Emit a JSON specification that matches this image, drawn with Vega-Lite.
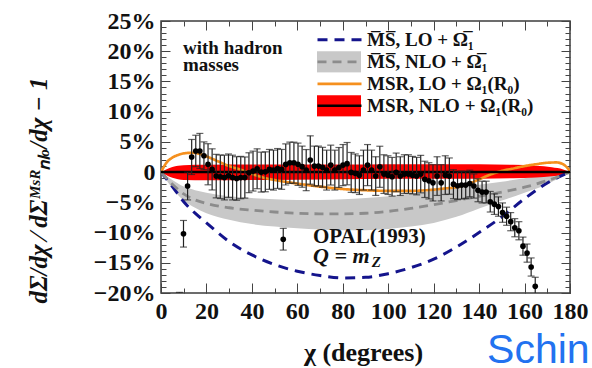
{
  "$schema": "https://vega.github.io/schema/vega-lite/v6.json",
  "width": 409,
  "height": 272,
  "autosize": {"type": "none"},
  "padding": {"left": 161, "top": 21, "right": 22, "bottom": 75},
  "background": "white",
  "config": {
    "view": {"stroke": "#3c3c3c", "strokeWidth": 1.5},
    "font": "Liberation Serif",
    "axis": {
      "grid": false, "domain": false, "tickColor": "#444", "tickWidth": 1,
      "labelFont": "Liberation Serif", "labelFontWeight": "bold", "labelFontSize": 24, "labelColor": "#111",
      "titleFont": "Liberation Serif", "titleFontWeight": "bold", "titleColor": "#111",
      "labelOverlap": false, "labelFlush": false
    }
  },
  "resolve": {"axis": {"x": "independent", "y": "independent"}},
  "datasets": {
    "bands": [
      {"x": 0, "lo": 0, "hi": 0, "band": "M̅S̅, NLO + Ω̅₁"},
      {"x": 5, "lo": -2.7, "hi": -1.3, "band": "M̅S̅, NLO + Ω̅₁"},
      {"x": 10, "lo": -4.7, "hi": -2.4, "band": "M̅S̅, NLO + Ω̅₁"},
      {"x": 15, "lo": -5.9, "hi": -3.0, "band": "M̅S̅, NLO + Ω̅₁"},
      {"x": 20, "lo": -6.8, "hi": -3.4, "band": "M̅S̅, NLO + Ω̅₁"},
      {"x": 30, "lo": -7.9, "hi": -4.0, "band": "M̅S̅, NLO + Ω̅₁"},
      {"x": 40, "lo": -8.6, "hi": -4.3, "band": "M̅S̅, NLO + Ω̅₁"},
      {"x": 50, "lo": -9.0, "hi": -4.5, "band": "M̅S̅, NLO + Ω̅₁"},
      {"x": 60, "lo": -9.3, "hi": -4.6, "band": "M̅S̅, NLO + Ω̅₁"},
      {"x": 70, "lo": -9.5, "hi": -4.6, "band": "M̅S̅, NLO + Ω̅₁"},
      {"x": 80, "lo": -9.6, "hi": -4.5, "band": "M̅S̅, NLO + Ω̅₁"},
      {"x": 90, "lo": -9.6, "hi": -4.3, "band": "M̅S̅, NLO + Ω̅₁"},
      {"x": 100, "lo": -9.4, "hi": -4.0, "band": "M̅S̅, NLO + Ω̅₁"},
      {"x": 110, "lo": -9.0, "hi": -3.6, "band": "M̅S̅, NLO + Ω̅₁"},
      {"x": 120, "lo": -8.4, "hi": -3.1, "band": "M̅S̅, NLO + Ω̅₁"},
      {"x": 130, "lo": -7.4, "hi": -2.6, "band": "M̅S̅, NLO + Ω̅₁"},
      {"x": 140, "lo": -6.0, "hi": -2.1, "band": "M̅S̅, NLO + Ω̅₁"},
      {"x": 150, "lo": -4.7, "hi": -1.6, "band": "M̅S̅, NLO + Ω̅₁"},
      {"x": 160, "lo": -3.4, "hi": -1.0, "band": "M̅S̅, NLO + Ω̅₁"},
      {"x": 170, "lo": -2.0, "hi": -0.4, "band": "M̅S̅, NLO + Ω̅₁"},
      {"x": 180, "lo": 0, "hi": 0, "band": "M̅S̅, NLO + Ω̅₁"},
      {"x": 0, "lo": 0, "hi": 0, "band": "MSR, NLO + Ω₁(R₀)"},
      {"x": 2, "lo": -0.45, "hi": 0.4, "band": "MSR, NLO + Ω₁(R₀)"},
      {"x": 5, "lo": -0.95, "hi": 0.85, "band": "MSR, NLO + Ω₁(R₀)"},
      {"x": 10, "lo": -1.3, "hi": 1.15, "band": "MSR, NLO + Ω₁(R₀)"},
      {"x": 20, "lo": -1.35, "hi": 1.2, "band": "MSR, NLO + Ω₁(R₀)"},
      {"x": 40, "lo": -1.3, "hi": 1.25, "band": "MSR, NLO + Ω₁(R₀)"},
      {"x": 60, "lo": -1.25, "hi": 1.25, "band": "MSR, NLO + Ω₁(R₀)"},
      {"x": 80, "lo": -1.2, "hi": 1.25, "band": "MSR, NLO + Ω₁(R₀)"},
      {"x": 100, "lo": -1.1, "hi": 1.3, "band": "MSR, NLO + Ω₁(R₀)"},
      {"x": 120, "lo": -1.1, "hi": 1.3, "band": "MSR, NLO + Ω₁(R₀)"},
      {"x": 140, "lo": -1.1, "hi": 1.3, "band": "MSR, NLO + Ω₁(R₀)"},
      {"x": 155, "lo": -1.0, "hi": 1.2, "band": "MSR, NLO + Ω₁(R₀)"},
      {"x": 165, "lo": -0.9, "hi": 1.05, "band": "MSR, NLO + Ω₁(R₀)"},
      {"x": 172, "lo": -0.7, "hi": 0.8, "band": "MSR, NLO + Ω₁(R₀)"},
      {"x": 177, "lo": -0.4, "hi": 0.45, "band": "MSR, NLO + Ω₁(R₀)"},
      {"x": 180, "lo": 0, "hi": 0, "band": "MSR, NLO + Ω₁(R₀)"}
    ],
    "curves": [
      {"x": 0, "y": 0, "curve": "msLO"}, {"x": 5, "y": -2.4, "curve": "msLO"}, {"x": 10, "y": -4.9, "curve": "msLO"},
      {"x": 15, "y": -6.8, "curve": "msLO"}, {"x": 20, "y": -8.4, "curve": "msLO"}, {"x": 25, "y": -10.0, "curve": "msLO"},
      {"x": 30, "y": -11.5, "curve": "msLO"}, {"x": 40, "y": -13.7, "curve": "msLO"}, {"x": 50, "y": -15.3, "curve": "msLO"},
      {"x": 60, "y": -16.4, "curve": "msLO"}, {"x": 70, "y": -17.1, "curve": "msLO"}, {"x": 80, "y": -17.5, "curve": "msLO"},
      {"x": 90, "y": -17.4, "curve": "msLO"}, {"x": 100, "y": -16.8, "curve": "msLO"}, {"x": 110, "y": -15.8, "curve": "msLO"},
      {"x": 120, "y": -14.4, "curve": "msLO"}, {"x": 130, "y": -12.4, "curve": "msLO"}, {"x": 140, "y": -10.0, "curve": "msLO"},
      {"x": 150, "y": -7.4, "curve": "msLO"}, {"x": 160, "y": -4.4, "curve": "msLO"}, {"x": 170, "y": -1.8, "curve": "msLO"},
      {"x": 180, "y": 0, "curve": "msLO"},
      {"x": 0, "y": 0, "curve": "msNLO"}, {"x": 5, "y": -2.0, "curve": "msNLO"}, {"x": 10, "y": -3.6, "curve": "msNLO"},
      {"x": 15, "y": -4.6, "curve": "msNLO"}, {"x": 20, "y": -5.2, "curve": "msNLO"}, {"x": 30, "y": -5.9, "curve": "msNLO"},
      {"x": 40, "y": -6.3, "curve": "msNLO"}, {"x": 50, "y": -6.6, "curve": "msNLO"}, {"x": 60, "y": -6.8, "curve": "msNLO"},
      {"x": 70, "y": -6.9, "curve": "msNLO"}, {"x": 80, "y": -6.9, "curve": "msNLO"}, {"x": 90, "y": -6.8, "curve": "msNLO"},
      {"x": 100, "y": -6.5, "curve": "msNLO"}, {"x": 110, "y": -6.0, "curve": "msNLO"}, {"x": 120, "y": -5.4, "curve": "msNLO"},
      {"x": 130, "y": -4.7, "curve": "msNLO"}, {"x": 140, "y": -4.0, "curve": "msNLO"}, {"x": 150, "y": -3.3, "curve": "msNLO"},
      {"x": 160, "y": -2.5, "curve": "msNLO"}, {"x": 170, "y": -1.4, "curve": "msNLO"}, {"x": 180, "y": 0, "curve": "msNLO"},
      {"x": 0, "y": 0, "curve": "msrLO"}, {"x": 2.5, "y": 1.6, "curve": "msrLO"}, {"x": 5, "y": 2.4, "curve": "msrLO"},
      {"x": 8, "y": 2.9, "curve": "msrLO"}, {"x": 11, "y": 3.15, "curve": "msrLO"}, {"x": 14, "y": 3.2, "curve": "msrLO"},
      {"x": 17, "y": 3.0, "curve": "msrLO"}, {"x": 20, "y": 2.6, "curve": "msrLO"}, {"x": 25, "y": 1.8, "curve": "msrLO"},
      {"x": 30, "y": 1.0, "curve": "msrLO"}, {"x": 35, "y": 0.4, "curve": "msrLO"}, {"x": 40, "y": -0.3, "curve": "msrLO"},
      {"x": 45, "y": -0.9, "curve": "msrLO"}, {"x": 50, "y": -1.3, "curve": "msrLO"}, {"x": 60, "y": -1.9, "curve": "msrLO"},
      {"x": 70, "y": -2.4, "curve": "msrLO"}, {"x": 80, "y": -2.8, "curve": "msrLO"}, {"x": 90, "y": -3.0, "curve": "msrLO"},
      {"x": 100, "y": -3.1, "curve": "msrLO"}, {"x": 110, "y": -3.1, "curve": "msrLO"}, {"x": 120, "y": -2.9, "curve": "msrLO"},
      {"x": 125, "y": -2.7, "curve": "msrLO"}, {"x": 130, "y": -2.5, "curve": "msrLO"}, {"x": 135, "y": -2.0, "curve": "msrLO"},
      {"x": 140, "y": -1.2, "curve": "msrLO"}, {"x": 145, "y": -0.4, "curve": "msrLO"}, {"x": 150, "y": 0.2, "curve": "msrLO"},
      {"x": 155, "y": 0.6, "curve": "msrLO"}, {"x": 160, "y": 1.0, "curve": "msrLO"}, {"x": 165, "y": 1.3, "curve": "msrLO"},
      {"x": 170, "y": 1.55, "curve": "msrLO"}, {"x": 174, "y": 1.6, "curve": "msrLO"}, {"x": 177, "y": 1.3, "curve": "msrLO"},
      {"x": 180, "y": 0.2, "curve": "msrLO"},
      {"x": 0, "y": 0, "curve": "msrNLO"}, {"x": 180, "y": 0, "curve": "msrNLO"}
    ],
    "pts": [
      {"x": 8.1, "y": -21.6, "err": 1.7}, {"x": 9.9, "y": -10.2, "err": 2.2}, {"x": 11.7, "y": -2.3, "err": 2.3},
      {"x": 13.5, "y": 2.5, "err": 2.9}, {"x": 15.3, "y": 3.5, "err": 2.6}, {"x": 17.1, "y": 3.5, "err": 2.9},
      {"x": 18.9, "y": 2.7, "err": 2.3}, {"x": 20.7, "y": 1.3, "err": 3.4}, {"x": 22.5, "y": 0.45, "err": 3.4},
      {"x": 24.3, "y": -0.66, "err": 3.6}, {"x": 26.1, "y": -0.77, "err": 3.6}, {"x": 27.9, "y": -0.9, "err": 3.7},
      {"x": 29.7, "y": -0.6, "err": 3.6}, {"x": 31.5, "y": -0.9, "err": 3.7}, {"x": 33.3, "y": -1.05, "err": 3.6},
      {"x": 35.1, "y": -0.9, "err": 3.5}, {"x": 36.9, "y": -0.9, "err": 3.4}, {"x": 38.7, "y": -0.1, "err": 3.3},
      {"x": 40.5, "y": 0.17, "err": 3.3}, {"x": 42.3, "y": 0.55, "err": 3.3}, {"x": 44.1, "y": 0.0, "err": 3.3},
      {"x": 45.9, "y": 0.05, "err": 3.3}, {"x": 47.7, "y": 0.45, "err": 3.3}, {"x": 49.5, "y": 0.33, "err": 3.3},
      {"x": 51.3, "y": 0.6, "err": 3.3}, {"x": 53.1, "y": 0.45, "err": 3.3}, {"x": 54.9, "y": 1.27, "err": 3.4},
      {"x": 56.7, "y": 1.55, "err": 3.4}, {"x": 58.5, "y": 1.55, "err": 3.4}, {"x": 60.3, "y": 1.3, "err": 3.5},
      {"x": 62.1, "y": 0.9, "err": 3.4}, {"x": 63.9, "y": 0.33, "err": 3.4}, {"x": 65.7, "y": 2.0, "err": 4.0},
      {"x": 67.5, "y": 1.0, "err": 3.3}, {"x": 69.3, "y": 1.0, "err": 3.3}, {"x": 71.1, "y": 0.8, "err": 3.3},
      {"x": 72.9, "y": 0.33, "err": 3.3}, {"x": 74.7, "y": 1.16, "err": 3.3}, {"x": 76.5, "y": 0.33, "err": 3.3},
      {"x": 78.3, "y": 0.77, "err": 3.3}, {"x": 80.1, "y": 1.16, "err": 3.4}, {"x": 81.9, "y": 1.4, "err": 3.5},
      {"x": 83.7, "y": -0.05, "err": 3.3}, {"x": 85.5, "y": -0.2, "err": 3.2}, {"x": 87.3, "y": -0.5, "err": 3.2},
      {"x": 89.1, "y": 0.33, "err": 3.3}, {"x": 90.9, "y": 1.16, "err": 3.4}, {"x": 92.7, "y": 0.33, "err": 3.3},
      {"x": 94.5, "y": -0.66, "err": 3.2}, {"x": 96.3, "y": 0.88, "err": 3.4}, {"x": 98.1, "y": -0.33, "err": 3.2},
      {"x": 99.9, "y": -0.5, "err": 3.2}, {"x": 101.7, "y": -0.77, "err": 3.2}, {"x": 103.5, "y": -0.05, "err": 3.2},
      {"x": 105.3, "y": -0.66, "err": 3.2}, {"x": 107.1, "y": -0.33, "err": 3.2}, {"x": 108.9, "y": -0.33, "err": 3.2},
      {"x": 110.7, "y": -0.5, "err": 3.1}, {"x": 112.5, "y": -0.66, "err": 3.1}, {"x": 114.3, "y": -0.33, "err": 3.1},
      {"x": 116.1, "y": -1.2, "err": 3.0}, {"x": 117.9, "y": -1.44, "err": 3.0}, {"x": 119.7, "y": -1.77, "err": 3.0},
      {"x": 121.5, "y": -0.66, "err": 3.2}, {"x": 123.3, "y": -1.77, "err": 3.0}, {"x": 125.1, "y": -0.5, "err": 3.2},
      {"x": 126.9, "y": -0.66, "err": 3.0}, {"x": 128.7, "y": -2.0, "err": 2.4}, {"x": 130.5, "y": -2.26, "err": 2.3},
      {"x": 132.3, "y": -2.15, "err": 2.3}, {"x": 134.1, "y": -2.15, "err": 2.2}, {"x": 135.9, "y": -1.88, "err": 2.2},
      {"x": 137.7, "y": -2.3, "err": 2.0}, {"x": 139.5, "y": -3.0, "err": 1.9}, {"x": 141.3, "y": -3.3, "err": 1.8},
      {"x": 143.1, "y": -3.3, "err": 1.8}, {"x": 144.9, "y": -4.9, "err": 1.7}, {"x": 146.7, "y": -5.3, "err": 1.7},
      {"x": 148.5, "y": -5.7, "err": 1.6}, {"x": 150.3, "y": -6.7, "err": 1.6}, {"x": 152.1, "y": -7.3, "err": 1.5},
      {"x": 153.9, "y": -8.2, "err": 1.5}, {"x": 155.7, "y": -9.2, "err": 1.5}, {"x": 157.5, "y": -9.7, "err": 1.5},
      {"x": 159.3, "y": -12.25, "err": 1.5}, {"x": 161.1, "y": -13.4, "err": 1.5}, {"x": 162.9, "y": -15.7, "err": 1.5},
      {"x": 164.7, "y": -18.9, "err": 1.5}, {"x": 53.8, "y": -11.1, "err": 1.8}
    ]
  },
  "layer": [
    {
      "data": {"name": "bands"},
      "mark": {"type": "area", "interpolate": "monotone", "clip": true},
      "encoding": {
        "x": {"field": "x", "type": "quantitative", "scale": {"domain": [0, 180], "nice": false, "zero": false},
          "axis": {"orient": "bottom", "values": [0, 20, 40, 60, 80, 100, 120, 140, 160, 180], "tickSize": -10, "labelPadding": 16,
            "labelFont": "Liberation Serif", "labelFontWeight": "bold", "labelFontSize": 24, "labelColor": "#111",
            "title": "χ (degrees)", "titleFont": "Liberation Serif", "titleFontWeight": "bold", "titleColor": "#111",
            "titleFontSize": 26, "titleX": 202, "titleY": 59, "titleBaseline": "middle"}},
        "y": {"field": "lo", "type": "quantitative", "stack": null, "scale": {"domain": [-20, 25], "nice": false, "zero": false},
          "axis": {"orient": "left", "values": [-20, -15, -10, -5, 0, 5, 10, 15, 20, 25], "tickSize": -9, "labelPadding": 15,
            "labelFont": "Liberation Serif", "labelFontWeight": "bold", "labelFontSize": 24, "labelColor": "#111",
            "labelExpr": "datum.value == 0 ? '0' : (datum.value < 0 ? '−' + abs(datum.value) : '' + datum.value) + '%'",
            "title": "dΣ/dχ ⁄ dΣᴹˢᴿₙₗₒ/dχ − 1", "titleFont": "Liberation Serif", "titleFontWeight": "bold", "titleColor": "#111",
            "titleFontSize": 25, "titleFontStyle": "italic",
            "titleX": -123, "titleY": 169, "titleBaseline": "middle", "titleAngle": -90}},
        "y2": {"field": "hi"},
        "fill": {"field": "band", "type": "nominal",
          "scale": {"domain": ["M̅S̅, LO + Ω̅₁", "M̅S̅, NLO + Ω̅₁", "MSR, LO + Ω₁(R₀)", "MSR, NLO + Ω₁(R₀)"],
                    "range": ["rgba(0,0,0,0)", "#c8c8c8", "rgba(0,0,0,0)", "#ff0000"]},
          "legend": {"title": null, "orient": "none", "legendX": 155, "legendY": 8, "zindex": 0,
            "symbolType": "M-1,-0.48H1V0.48H-1Z", "symbolSize": 1936, "symbolStrokeWidth": 1.5, "symbolStrokeColor": "transparent",
            "clipHeight": 21.7, "rowPadding": 0, "labelOffset": 5, "padding": 0,
            "labelFont": "Liberation Serif", "labelFontWeight": "bold", "labelFontSize": 19, "labelColor": "#111", "labelLimit": 400}}
      }
    },
    {
      "data": {"name": "curves"},
      "mark": {"type": "line", "interpolate": "monotone", "clip": true},
      "encoding": {
        "x": {"field": "x", "type": "quantitative", "scale": {"domain": [0, 180], "nice": false, "zero": false},
          "axis": {"orient": "bottom", "values": [0, 10, 20, 30, 40, 50, 60, 70, 80, 90, 100, 110, 120, 130, 140, 150, 160, 170, 180], "tickSize": -5, "labels": false, "title": null}},
        "y": {"field": "y", "type": "quantitative", "scale": {"domain": [-20, 25], "nice": false, "zero": false},
          "axis": {"orient": "left", "values": [-20,-19,-18,-17,-16,-15,-14,-13,-12,-11,-10,-9,-8,-7,-6,-5,-4,-3,-2,-1,0,1,2,3,4,5,6,7,8,9,10,11,12,13,14,15,16,17,18,19,20,21,22,23,24,25], "tickSize": -5, "labels": false, "title": null}},
        "stroke": {"field": "curve", "type": "nominal",
          "scale": {"domain": ["msLO", "msNLO", "msrLO", "msrNLO"], "range": ["#14148c", "#8c8c8c", "#f5901e", "#000000"]},
          "legend": {"title": null, "orient": "none", "legendX": 155, "legendY": 8, "zindex": 1,
            "symbolType": "stroke", "symbolSize": 1936, "symbolStrokeWidth": 1.5,
            "clipHeight": 21.7, "rowPadding": 0, "labelOffset": 5, "padding": 0,
            "labelFontSize": 19, "labelExpr": "''"}},
        "strokeDash": {"field": "curve", "type": "nominal",
          "scale": {"domain": ["msLO", "msNLO", "msrLO", "msrNLO"], "range": [[10, 7], [9, 6], [1, 0], [1, 0]]},
          "legend": {"title": null, "orient": "none", "legendX": 155, "legendY": 8, "zindex": 1,
            "symbolType": "stroke", "symbolSize": 1936, "symbolStrokeWidth": 1.5,
            "clipHeight": 21.7, "rowPadding": 0, "labelOffset": 5, "padding": 0,
            "labelFontSize": 19, "labelExpr": "''"}},
        "strokeWidth": {"field": "curve", "type": "nominal",
          "scale": {"domain": ["msLO", "msNLO", "msrLO", "msrNLO"], "range": [3, 2.5, 2, 1.5]}, "legend": null}
      }
    },
    {
      "data": {"name": "pts"},
      "mark": {"type": "errorbar", "clip": true, "ticks": {"size": 7, "color": "#222", "thickness": 1.2}, "rule": {"color": "#222", "strokeWidth": 1.2}},
      "encoding": {
        "x": {"field": "x", "type": "quantitative", "scale": {"domain": [0, 180], "nice": false, "zero": false}, "axis": null},
        "y": {"field": "y", "type": "quantitative", "scale": {"domain": [-20, 25], "nice": false, "zero": false}, "axis": null},
        "yError": {"field": "err"}
      }
    },
    {
      "data": {"name": "pts"},
      "mark": {"type": "circle", "size": 32, "color": "#000", "opacity": 1, "clip": true},
      "encoding": {
        "x": {"field": "x", "type": "quantitative", "scale": {"domain": [0, 180], "nice": false, "zero": false},
          "axis": {"orient": "top", "values": [0, 20, 40, 60, 80, 100, 120, 140, 160, 180], "tickSize": -9, "labels": false, "title": null}},
        "y": {"field": "y", "type": "quantitative", "scale": {"domain": [-20, 25], "nice": false, "zero": false},
          "axis": {"orient": "right", "values": [-20, -15, -10, -5, 0, 5, 10, 15, 20, 25], "tickSize": -9, "labels": false, "title": null}}
      }
    },
    {
      "data": {"values": [{"x": 9.7, "y": 20.6, "t": "with hadron"}, {"x": 9.7, "y": 17.7, "t": "masses"}]},
      "mark": {"type": "text", "align": "left", "baseline": "middle", "font": "Liberation Serif", "fontWeight": "bold", "fontSize": 19, "color": "#111"},
      "encoding": {
        "x": {"field": "x", "type": "quantitative", "scale": {"domain": [0, 180], "nice": false, "zero": false},
          "axis": {"orient": "top", "values": [0, 10, 20, 30, 40, 50, 60, 70, 80, 90, 100, 110, 120, 130, 140, 150, 160, 170, 180], "tickSize": -5, "labels": false, "title": null}},
        "y": {"field": "y", "type": "quantitative", "scale": {"domain": [-20, 25], "nice": false, "zero": false},
          "axis": {"orient": "right", "values": [-20,-19,-18,-17,-16,-15,-14,-13,-12,-11,-10,-9,-8,-7,-6,-5,-4,-3,-2,-1,0,1,2,3,4,5,6,7,8,9,10,11,12,13,14,15,16,17,18,19,20,21,22,23,24,25], "tickSize": -5, "labels": false, "title": null}},
        "text": {"field": "t"}
      }
    },
    {
      "data": {"values": [{"x": 66.9, "y": -11.8, "t": "OPAL(1993)"}]},
      "mark": {"type": "text", "align": "left", "baseline": "alphabetic", "font": "Liberation Serif", "fontWeight": "bold", "fontSize": 21, "color": "#111"},
      "encoding": {
        "x": {"field": "x", "type": "quantitative", "scale": {"domain": [0, 180], "nice": false, "zero": false}, "axis": null},
        "y": {"field": "y", "type": "quantitative", "scale": {"domain": [-20, 25], "nice": false, "zero": false}, "axis": null},
        "text": {"field": "t"}
      }
    },
    {
      "data": {"values": [{"x": 66.9, "y": -15.0, "t": "Q = m"}]},
      "mark": {"type": "text", "align": "left", "baseline": "alphabetic", "font": "Liberation Serif", "fontWeight": "bold", "fontStyle": "italic", "fontSize": 22, "color": "#111"},
      "encoding": {
        "x": {"field": "x", "type": "quantitative", "scale": {"domain": [0, 180], "nice": false, "zero": false}, "axis": null},
        "y": {"field": "y", "type": "quantitative", "scale": {"domain": [-20, 25], "nice": false, "zero": false}, "axis": null},
        "text": {"field": "t"}
      }
    },
    {
      "data": {"values": [{"x": 92.8, "y": -15.75, "t": "Z"}]},
      "mark": {"type": "text", "align": "left", "baseline": "alphabetic", "font": "Liberation Serif", "fontWeight": "bold", "fontStyle": "italic", "fontSize": 15, "color": "#111"},
      "encoding": {
        "x": {"field": "x", "type": "quantitative", "scale": {"domain": [0, 180], "nice": false, "zero": false}, "axis": null},
        "y": {"field": "y", "type": "quantitative", "scale": {"domain": [-20, 25], "nice": false, "zero": false}, "axis": null},
        "text": {"field": "t"}
      }
    },
    {
      "data": {"values": [{"x": 143.5, "y": -31.5, "t": "Schin"}]},
      "mark": {"type": "text", "align": "left", "baseline": "alphabetic", "font": "Liberation Sans", "fontSize": 41, "color": "#2272f0"},
      "encoding": {
        "x": {"field": "x", "type": "quantitative", "scale": {"domain": [0, 180], "nice": false, "zero": false}, "axis": null},
        "y": {"field": "y", "type": "quantitative", "scale": {"domain": [-20, 25], "nice": false, "zero": false}, "axis": null},
        "text": {"field": "t"}
      }
    }
  ]
}
